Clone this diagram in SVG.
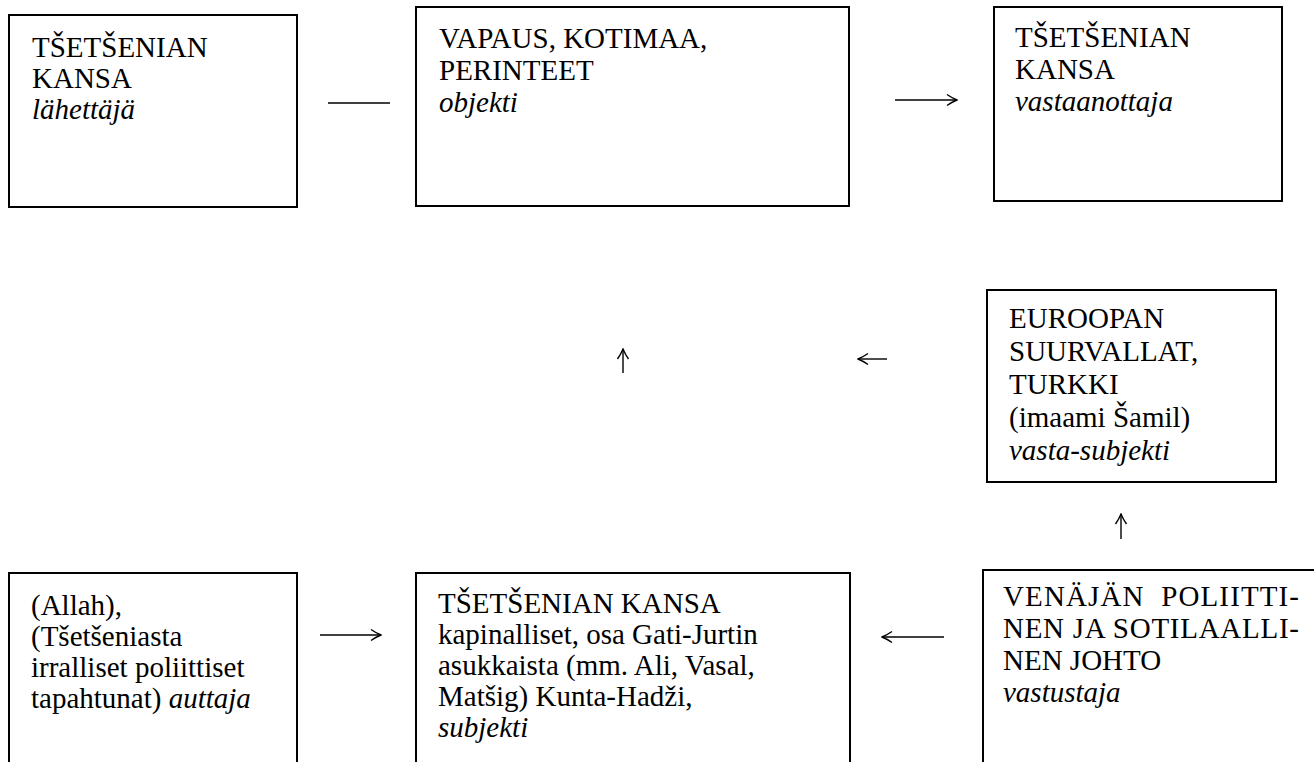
<svg xmlns="http://www.w3.org/2000/svg" width="1314" height="762" viewBox="0 0 1314 762">
<style>
.box{fill:none;stroke:#000;stroke-width:2}
.t{font-family:"Liberation Serif","Times New Roman",serif;font-size:29px;fill:#000}
.i{font-style:italic}
.c{fill:none;stroke:#000;stroke-width:1.4}
</style>
<defs>
<marker id="ah" viewBox="0 0 12 14" refX="11" refY="7" markerWidth="12" markerHeight="14" markerUnits="userSpaceOnUse" orient="auto">
<path d="M1,1.5 Q6,5 11,7 Q6,9 1,12.5" fill="none" stroke="#000" stroke-width="1.4"/>
</marker>
</defs>
<rect width="1314" height="762" fill="#fff"/>
<g id="n1">
<rect class="box" x="9" y="15" width="288" height="192"/>
<text class="t" x="32" y="57">TŠETŠENIAN</text>
<text class="t" x="32" y="88">KANSA</text>
<text class="t i" x="32" y="119">lähettäjä</text>
</g>
<g id="n2">
<rect class="box" x="416" y="7" width="433" height="199"/>
<text class="t" x="439" y="48">VAPAUS, KOTIMAA,</text>
<text class="t" x="439" y="80">PERINTEET</text>
<text class="t i" x="439" y="112">objekti</text>
</g>
<g id="n3">
<rect class="box" x="994" y="7" width="288" height="194"/>
<text class="t" x="1015" y="47">TŠETŠENIAN</text>
<text class="t" x="1015" y="79">KANSA</text>
<text class="t i" x="1015" y="111">vastaanottaja</text>
</g>
<g id="n4">
<rect class="box" x="987" y="290" width="289" height="192"/>
<text class="t" x="1009" y="328">EUROOPAN</text>
<text class="t" x="1009" y="361">SUURVALLAT,</text>
<text class="t" x="1009" y="394">TURKKI</text>
<text class="t" x="1009" y="427">(imaami Šamil)</text>
<text class="t i" x="1009" y="460">vasta-subjekti</text>
</g>
<g id="n5">
<rect class="box" x="9" y="573" width="288" height="230"/>
<text class="t" x="31" y="615">(Allah),</text>
<text class="t" x="31" y="646">(Tšetšeniasta</text>
<text class="t" x="31" y="677">irralliset poliittiset</text>
<text class="t" x="31" y="708">tapahtunat) <tspan class="i">auttaja</tspan></text>
</g>
<g id="n6">
<rect class="box" x="416" y="573" width="434" height="230"/>
<text class="t" x="438" y="613">TŠETŠENIAN KANSA</text>
<text class="t" x="438" y="644">kapinalliset, osa Gati-Jurtin</text>
<text class="t" x="438" y="675">asukkaista (mm. Ali, Vasal,</text>
<text class="t" x="438" y="706">Matšig) Kunta-Hadži,</text>
<text class="t i" x="438" y="737">subjekti</text>
</g>
<g id="n7">
<rect class="box" x="983" y="570" width="360" height="230"/>
<text class="t" x="1003" y="606" xml:space="preserve" textLength="296" lengthAdjust="spacing">VENÄJÄN  POLIITTI-</text>
<text class="t" x="1003" y="638" textLength="296" lengthAdjust="spacing">NEN JA SOTILAALLI-</text>
<text class="t" x="1003" y="670">NEN JOHTO</text>
<text class="t i" x="1003" y="702">vastustaja</text>
</g>
<g id="connectors">
<line class="c" x1="328" y1="103" x2="390" y2="103"/>
<line class="c" x1="895" y1="100" x2="957" y2="100" marker-end="url(#ah)"/>
<line class="c" x1="623" y1="373" x2="623" y2="349" marker-end="url(#ah)"/>
<line class="c" x1="887" y1="359" x2="858" y2="359" marker-end="url(#ah)"/>
<line class="c" x1="1121" y1="539" x2="1121" y2="514" marker-end="url(#ah)"/>
<line class="c" x1="320" y1="635" x2="381" y2="635" marker-end="url(#ah)"/>
<line class="c" x1="944" y1="637" x2="882" y2="637" marker-end="url(#ah)"/>
</g>
</svg>
